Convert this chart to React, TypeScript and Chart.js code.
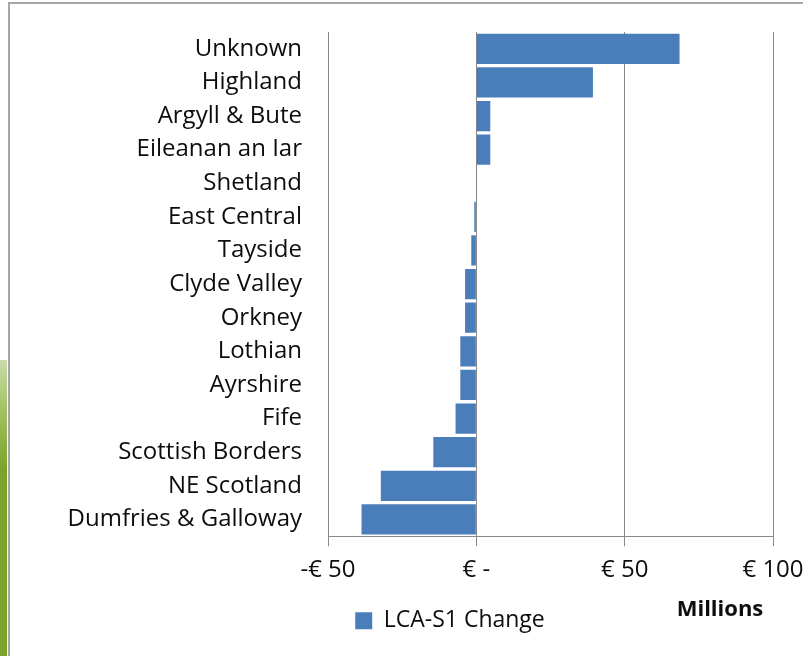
import React, { useEffect, useRef } from "react";
import { Chart, registerables } from "chart.js";

Chart.register(...registerables);

const regions = [
  "Unknown",
  "Highland",
  "Argyll & Bute",
  "Eileanan an Iar",
  "Shetland",
  "East Central",
  "Tayside",
  "Clyde Valley",
  "Orkney",
  "Lothian",
  "Ayrshire",
  "Fife",
  "Scottish Borders",
  "NE Scotland",
  "Dumfries & Galloway",
];

const lcaS1Change = [68.5, 39.3, 4.7, 4.7, 0.2, -0.7, -1.7, -3.8, -3.8, -5.4, -5.4, -7.0, -14.5, -32.2, -38.7];

const seriesLabel = "LCA-S1 Change";
const unitsLabel = "Millions";
const xMin = -50;
const xMax = 100;
const xStep = 50;

const FONT = "'Open Sans', Lato, sans-serif";
const TEXT = "#0d0d0d";

function formatEuro(v: number): string {
  if (v === 0) return "€ -";
  if (v < 0) return "-€ " + Math.abs(v);
  return "€ " + v;
}

const framePlugin = {
  id: "frame",
  afterLayout(chart: any) {
    const lg = chart.legend;
    if (!lg) return;
    const dx = 450 - (lg.left + lg.right) / 2;
    lg.left += dx;
    lg.right += dx;
    const h = lg.bottom - lg.top;
    lg.top = chart.chartArea.bottom + 63;
    lg.bottom = lg.top + h;
  },
  beforeDraw(chart: any) {
    const { ctx, width, height } = chart;
    ctx.save();
    ctx.fillStyle = "#ffffff";
    ctx.fillRect(0, 0, width, height);
    const g = ctx.createLinearGradient(0, 360, 0, 470);
    g.addColorStop(0, "#c9dcaa");
    g.addColorStop(0.5, "#9fbf5c");
    g.addColorStop(1, "#7aa32a");
    ctx.fillStyle = g;
    ctx.fillRect(0, 360, 7, height - 360);
    ctx.strokeStyle = "#a6a6a6";
    ctx.lineWidth = 2;
    ctx.beginPath();
    ctx.moveTo(9, height);
    ctx.lineTo(9, 3);
    ctx.lineTo(width, 3);
    ctx.stroke();
    ctx.restore();
  },
  afterDraw(chart: any) {
    const { ctx, chartArea } = chart;
    const xs = chart.scales.x;
    ctx.save();
    ctx.font = "bold 22px " + FONT;
    ctx.fillStyle = TEXT;
    ctx.textAlign = "center";
    ctx.textBaseline = "middle";
    ctx.fillText(unitsLabel, xs.getPixelForValue(xMax) - 53, chartArea.bottom + 74);
    ctx.restore();
  },
};

export default function App() {
  const ref = useRef<HTMLCanvasElement | null>(null);
  useEffect(() => {
    if (!ref.current) return;
    const chart = new Chart(ref.current, {
      type: "bar",
      data: {
        labels: regions,
        datasets: [
          {
            label: seriesLabel,
            data: lcaS1Change,
            backgroundColor: "#4a7ebb",
            borderWidth: 0,
            barPercentage: 0.9,
            categoryPercentage: 1.0,
          },
        ],
      },
      options: {
        indexAxis: "y",
        responsive: false,
        animation: false,
        layout: { padding: { left: 39, right: 30, top: 32, bottom: 18 } },
        plugins: {
          legend: {
            position: "bottom",
            labels: {
              boxWidth: 17,
              boxHeight: 17,
              color: TEXT,
              font: { family: FONT, size: 23 },
              padding: 10,
            },
          },
          tooltip: { enabled: false },
        },
        scales: {
          x: {
            type: "linear",
            min: xMin,
            max: xMax,
            ticks: {
              stepSize: xStep,
              color: TEXT,
              font: { family: FONT, size: 24 },
              padding: 10,
              maxRotation: 0,
              callback: (v: any) => formatEuro(Number(v)),
            },
            grid: { color: "#888888", lineWidth: 1, tickLength: 10, drawTicks: true },
            border: { color: "#888888", width: 1 },
            afterFit: (scale: any) => {
              scale.paddingRight = 0;
              scale.paddingLeft = 0;
            },
          },
          y: {
            type: "category",
            grid: { display: false, drawTicks: false },
            border: { display: true, color: "#888888", width: 1 },
            ticks: {
              color: TEXT,
              font: { family: FONT, size: 24 },
              padding: 26,
              autoSkip: false,
            },
            afterFit: (scale: any) => {
              scale.width = 289;
              scale.paddingTop = 0;
              scale.paddingBottom = 0;
            },
          },
        },
      },
      plugins: [framePlugin],
    } as any);
    return () => chart.destroy();
  }, []);
  return (
    <div style={{ position: "absolute", left: 0, top: 0, width: 803, height: 656 }}>
      <canvas ref={ref} width={803} height={656} />
    </div>
  );
}
